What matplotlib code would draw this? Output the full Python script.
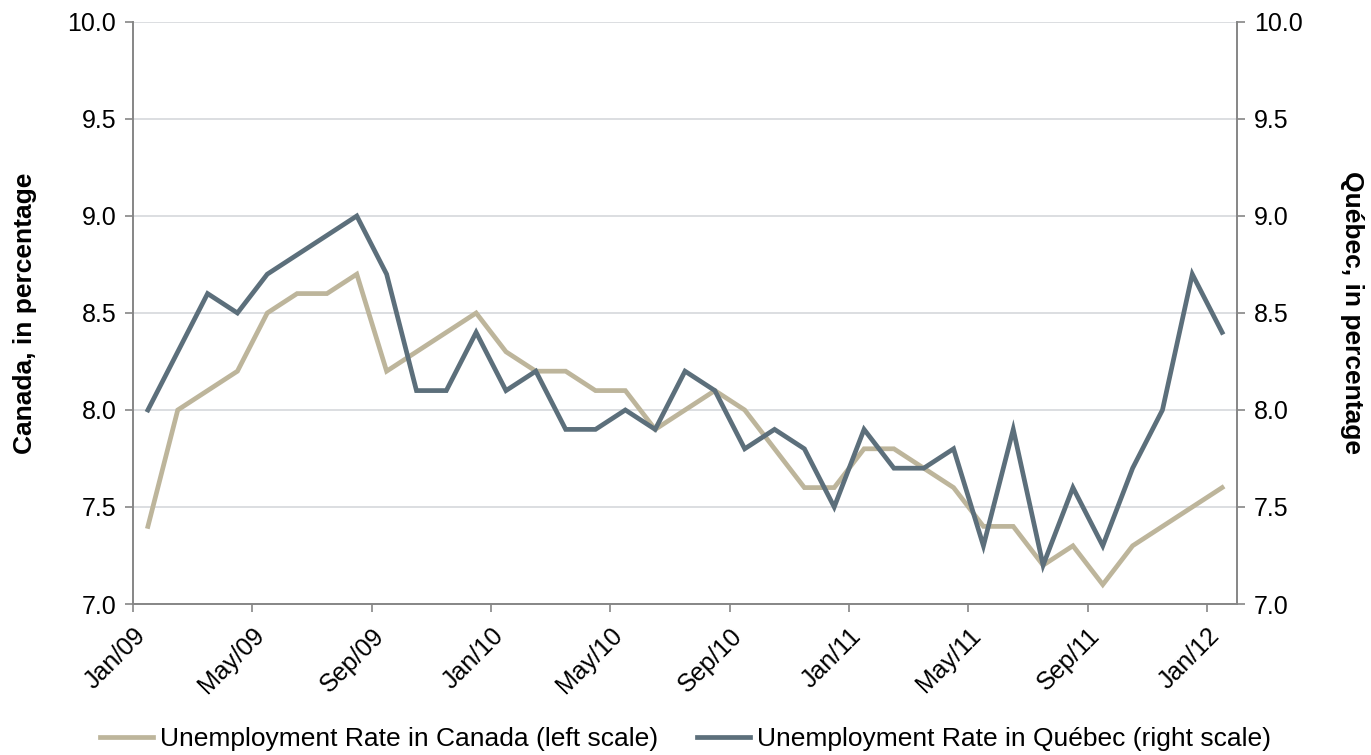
import matplotlib

matplotlib.use("Agg")

import matplotlib.pyplot as plt
import numpy as np

plt.rcParams["font.family"] = ["Liberation Sans", "DejaVu Sans"]

# monthly values Jan/09 .. Jan/12
canada = [7.4, 8.0, 8.1, 8.2, 8.5, 8.6, 8.6, 8.7, 8.2, 8.3, 8.4, 8.5,
          8.3, 8.2, 8.2, 8.1, 8.1, 7.9, 8.0, 8.1, 8.0, 7.8, 7.6, 7.6,
          7.8, 7.8, 7.7, 7.6, 7.4, 7.4, 7.2, 7.3, 7.1, 7.3, 7.4, 7.5, 7.6]
quebec = [8.0, 8.3, 8.6, 8.5, 8.7, 8.8, 8.9, 9.0, 8.7, 8.1, 8.1, 8.4,
          8.1, 8.2, 7.9, 7.9, 8.0, 7.9, 8.2, 8.1, 7.8, 7.9, 7.8, 7.5,
          7.9, 7.7, 7.7, 7.8, 7.3, 7.9, 7.2, 7.6, 7.3, 7.7, 8.0, 8.7, 8.4]
tick_labels = ["Jan/09", "May/09", "Sep/09", "Jan/10", "May/10", "Sep/10",
               "Jan/11", "May/11", "Sep/11", "Jan/12"]

CANADA_COLOR = "#BDB59B"
QUEBEC_COLOR = "#5C6F7B"
AXIS_COLOR = "#868686"

x = np.arange(len(canada)) + 0.5

fig = plt.figure(figsize=(13.71, 7.55), dpi=100)
ax = fig.add_axes([0.097, 0.2, 0.8053, 0.7709])
ax2 = ax.twinx()

l1, = ax.plot(x, canada, color=CANADA_COLOR, lw=3.4, solid_joinstyle="miter",
              label="Unemployment Rate in Canada (left scale)")
l2, = ax2.plot(x, quebec, color=QUEBEC_COLOR, lw=3.4, solid_joinstyle="miter",
               label="Unemployment Rate in Québec (right scale)")

yticks = np.arange(7.0, 10.01, 0.5)
for a in (ax, ax2):
    a.set_ylim(7.0, 10.0)
    a.set_yticks(yticks)
    a.set_yticklabels([f"{v:.1f}" for v in yticks])
    a.tick_params(axis="y", labelsize=18, length=6, color=AXIS_COLOR, width=1.2, pad=6)
    for s in a.spines.values():
        s.set_visible(False)

ax.set_xlim(0, 37)
ax.set_xticks(np.arange(0, 37, 4))
ax.set_xticklabels(tick_labels, rotation=45, ha="right", rotation_mode="anchor")
ax.tick_params(axis="x", labelsize=18, length=6, color=AXIS_COLOR, width=1.2, pad=8)

ax.spines["left"].set_visible(True)
ax.spines["bottom"].set_visible(True)
ax2.spines["right"].set_visible(True)
for s in (ax.spines["left"], ax.spines["bottom"], ax2.spines["right"]):
    s.set_color(AXIS_COLOR)
    s.set_linewidth(1.4)

ax.grid(axis="y", color="#D5D8DC", lw=1.2)
ax.set_axisbelow(True)

ax.set_ylabel("Canada, in percentage", fontsize=19, fontweight="bold", labelpad=22)
ax2.set_ylabel("Québec, in percentage", fontsize=19, fontweight="bold",
               rotation=270, labelpad=44)

fig.legend(handles=[l1, l2], loc="lower center", bbox_to_anchor=(0.5, -0.026),
           ncol=2, frameon=False, fontsize=19, handlelength=2.0,
           handletextpad=0.25, columnspacing=1.5)

fig.savefig("out.png", dpi=100)
